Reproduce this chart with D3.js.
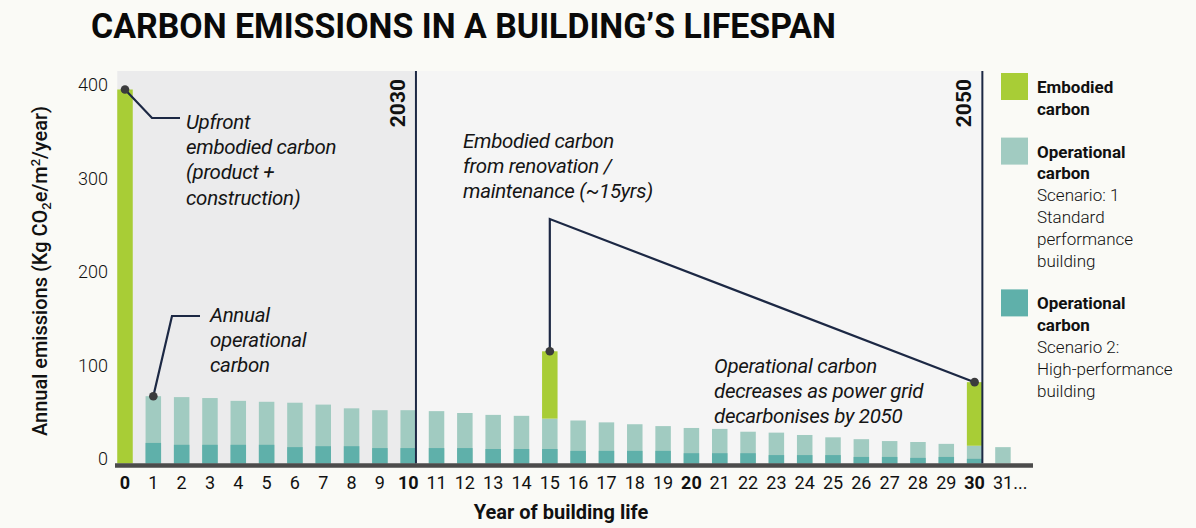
<!DOCTYPE html>
<html>
<head>
<meta charset="utf-8">
<script src="https://cdn.jsdelivr.net/npm/d3@7"></script>
<style>
  body { margin: 0; background: #fafaf6; }
  svg { display: block; font-family: Roboto, "Noto Sans", sans-serif; }
</style>
</head>
<body>
<script>
const width = 1196;
const height = 528;

// data
const years = d3.range(0, 32);
const standard = [0, 72, 71, 70, 67, 66, 65, 63, 59, 57, 57, 56, 54, 52, 51, 48,
                  46, 44, 42, 40, 38, 37, 34, 33, 30.5, 28, 26, 24, 23, 21, 19, 17.5];
const highPerf = [0, 22, 20, 20, 20, 20, 17.5, 18.5, 18.5, 16.5, 16.5, 16.5, 16.5, 15.5, 15.5, 15.5,
                  13.5, 13.5, 13.5, 13.5, 11, 11, 11, 9, 9, 9, 7, 7, 6, 7, 5, 0];
const embodied = [400, 0, 0, 0, 0, 0, 0, 0, 0, 0, 0, 0, 0, 0, 0, 72,
                  0, 0, 0, 0, 0, 0, 0, 0, 0, 0, 0, 0, 0, 0, 68, 0];
const yTicks = [0, 100, 200, 300, 400];
const boldYears = [0, 10, 20, 30];
const milestones = [{year: 10, label: "2030"}, {year: 30, label: "2050"}];

const colors = {embodied: "#a8cd36", standard: "#a1cbc1", high: "#5fb0aa"};
const navy = "#1c2844";

const legendItems = [
  {color: colors.embodied, title: ["Embodied", "carbon"], desc: []},
  {color: colors.standard, title: ["Operational", "carbon"], desc: ["Scenario: 1", "Standard", "performance", "building"]},
  {color: colors.high, title: ["Operational", "carbon"], desc: ["Scenario 2:", "High-performance", "building"]}
];

const svg = d3.select("body").append("svg")
  .attr("width", width)
  .attr("height", height);

const x = d3.scaleBand()
  .domain(years)
  .range([110.84, 1017.1])
  .paddingInner(0.453)
  .paddingOuter(0.2265);
const bw = x.bandwidth();
const cx = d => x(d) + bw / 2;

const y = d3.scaleLinear().domain([0, 400]).range([463.5, 89.5]);
const plotTop = 71;

// title
svg.append("text")
  .attr("x", 91).attr("y", 38)
  .attr("font-size", 35).attr("font-weight", 700)
  .attr("textLength", 745).attr("lengthAdjust", "spacingAndGlyphs")
  .attr("fill", "#0a0a0a")
  .text("CARBON EMISSIONS IN A BUILDING\u2019S LIFESPAN");

// plot backgrounds
svg.append("rect")
  .attr("x", x(0)).attr("y", plotTop)
  .attr("width", x(10) + bw - x(0)).attr("height", y(0) - plotTop)
  .attr("fill", "#ebebec");
svg.append("rect")
  .attr("x", x(10) + bw).attr("y", plotTop)
  .attr("width", x(30) - x(10)).attr("height", y(0) - plotTop)
  .attr("fill", "#f5f5f5");

// bars
const bars = svg.append("g");
bars.selectAll(".std")
  .data(years.filter(d => standard[d] > 0))
  .enter().append("rect")
  .attr("x", d => x(d)).attr("width", bw)
  .attr("y", d => y(standard[d]))
  .attr("height", d => y(0) - y(standard[d]))
  .attr("fill", colors.standard);
bars.selectAll(".hp")
  .data(years.filter(d => highPerf[d] > 0))
  .enter().append("rect")
  .attr("x", d => x(d)).attr("width", bw)
  .attr("y", d => y(highPerf[d]))
  .attr("height", d => y(0) - y(highPerf[d]))
  .attr("fill", colors.high);
bars.selectAll(".emb")
  .data(years.filter(d => embodied[d] > 0))
  .enter().append("rect")
  .attr("x", d => x(d)).attr("width", bw)
  .attr("y", d => y(standard[d] + embodied[d]))
  .attr("height", d => y(standard[d]) - y(standard[d] + embodied[d]))
  .attr("fill", colors.embodied);

// milestone lines
const ms = svg.append("g").selectAll("g")
  .data(milestones)
  .enter().append("g")
  .attr("transform", d => "translate(" + (x(d.year) + bw) + ",0)");
ms.append("line")
  .attr("y1", plotTop).attr("y2", y(0))
  .attr("stroke", navy).attr("stroke-width", 2);
ms.append("text")
  .attr("transform", "translate(-11," + 79 + ") rotate(-90)")
  .attr("text-anchor", "end")
  .attr("font-size", 21).attr("font-weight", 700)
  .attr("fill", "#111")
  .text(d => d.label);

// axis baseline
svg.append("line")
  .attr("x1", 115).attr("x2", 1033)
  .attr("y1", 465.5).attr("y2", 465.5)
  .attr("stroke", "#4b4b4b").attr("stroke-width", 4.5);

// x axis
const xAxis = svg.append("g")
  .attr("transform", "translate(0," + y(0) + ")")
  .call(d3.axisBottom(x).tickSize(0).tickFormat(d => d === 31 ? "31..." : d));
xAxis.select(".domain").remove();
xAxis.selectAll("text")
  .attr("y", 25).attr("dy", 0)
  .attr("font-family", "Roboto, 'Noto Sans', sans-serif")
  .attr("font-size", 18)
  .attr("fill", "#111")
  .attr("font-weight", d => boldYears.includes(d) ? 700 : 400);
xAxis.selectAll("text").filter(d => d === 31)
  .attr("text-anchor", "start").attr("x", -10);

svg.append("text")
  .attr("x", 561).attr("y", 519)
  .attr("text-anchor", "middle")
  .attr("font-size", 20).attr("font-weight", 700)
  .attr("fill", "#111")
  .text("Year of building life");

// y axis
const yAxis = svg.append("g")
  .attr("transform", "translate(115,0)")
  .call(d3.axisLeft(y).tickValues(yTicks).tickSize(0).tickPadding(7));
yAxis.select(".domain").remove();
yAxis.selectAll("text")
  .attr("dy", 1)
  .attr("font-family", "Roboto, 'Noto Sans', sans-serif")
  .attr("font-size", 18).attr("font-weight", 300)
  .attr("fill", "#111");

const yTitle = svg.append("text")
  .attr("transform", "translate(47,271) rotate(-90)")
  .attr("text-anchor", "middle")
  .attr("font-size", 20).attr("font-weight", 500)
  .attr("fill", "#111");
yTitle.append("tspan").text("Annual emissions (Kg CO");
yTitle.append("tspan").attr("font-size", 13).attr("dy", 4).text("2");
yTitle.append("tspan").attr("dy", -4).text("e/m");
yTitle.append("tspan").attr("font-size", 13).attr("dy", -7).text("2");
yTitle.append("tspan").attr("dy", 7).text("/year)");

// annotations
const ann = svg.append("g");
function leader(points) {
  ann.append("path")
    .attr("d", d3.line()(points))
    .attr("fill", "none")
    .attr("stroke", navy).attr("stroke-width", 2.2);
}
function dot(px, py) {
  ann.append("circle").attr("cx", px).attr("cy", py).attr("r", 4.3).attr("fill", "#3b3b3d");
}
function note(tx, ty, lines) {
  const t = ann.append("text")
    .attr("font-size", 20.5).attr("font-style", "italic").attr("font-weight", 400)
    .attr("letter-spacing", -0.3)
    .attr("fill", "#151515");
  lines.forEach((l, i) => {
    t.append("tspan").attr("x", tx).attr("y", ty + i * 25.2).text(l);
  });
}

const top0 = [cx(0), y(standard[0] + embodied[0])];
leader([top0, [152, 118], [180, 118]]);
dot(...top0);
note(186, 129, ["Upfront", "embodied carbon", "(product +", "construction)"]);

const top1 = [cx(1), y(standard[1])];
leader([top1, [172, 316], [200, 316]]);
dot(...top1);
note(210, 322, ["Annual", "operational", "carbon"]);

const top15 = [cx(15), y(standard[15] + embodied[15])];
const top30 = [cx(30), y(standard[30] + embodied[30])];
leader([top15, [cx(15), 219], top30]);
dot(...top15);
dot(...top30);
note(463, 148, ["Embodied carbon", "from renovation /", "maintenance (~15yrs)"]);
note(714, 373, ["Operational carbon", "decreases as power grid", "decarbonises by 2050"]);

// legend
const lg = svg.append("g");
let ly = 73;
legendItems.forEach(item => {
  lg.append("rect")
    .attr("x", 1001).attr("y", ly)
    .attr("width", 27).attr("height", 27)
    .attr("fill", item.color);
  const lines = item.title.map(t => ({t, bold: true})).concat(item.desc.map(t => ({t, bold: false})));
  lines.forEach((l, i) => {
    lg.append("text")
      .attr("x", 1037).attr("y", ly + 20 + i * 21.8)
      .attr("font-size", 17)
      .attr("font-weight", l.bold ? 700 : 300)
      .attr("fill", "#111")
      .text(l.t);
  });
  ly += lines.length * 21.8 + 21;
});
</script>
</body>
</html>
